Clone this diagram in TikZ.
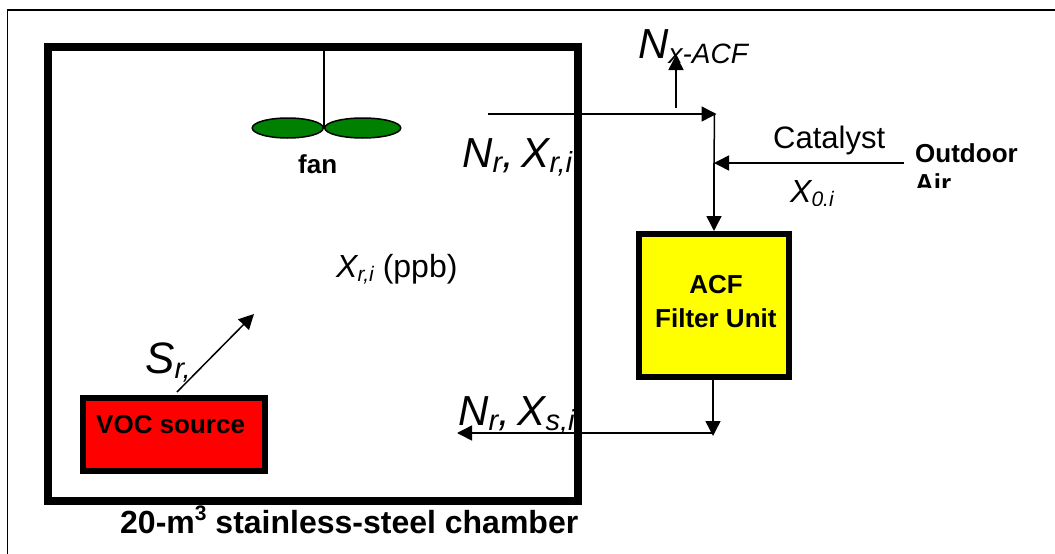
\documentclass[tikz,border=0pt]{standalone}
\usepackage{fontspec}
\setmainfont{Liberation Sans}
\usetikzlibrary{arrows.meta,shapes.geometric}
\newcommand{\subbig}[1]{\raisebox{-5pt}{\fontsize{29}{29}\selectfont #1}}
\newcommand{\subsmall}[1]{\raisebox{-4pt}{\fontsize{21}{21}\selectfont #1}}
\definecolor{fangreen}{RGB}{0,128,0}
\definecolor{acfyellow}{RGB}{255,255,0}
\definecolor{vocred}{RGB}{255,0,0}
\tikzset{
  bigital/.style={anchor=base west, inner sep=0, font=\fontsize{42}{42}\selectfont\itshape},
  midital/.style={anchor=base west, inner sep=0, font=\fontsize{32}{32}\selectfont\itshape},
  boldlabel/.style={anchor=base west, inner sep=0, font=\fontsize{26}{26}\selectfont\bfseries},
  plainlabel/.style={anchor=base west, inner sep=0, font=\fontsize{31}{31}\selectfont},
  box/.style={draw, inner sep=0, line width=6pt},
  blade/.style={draw, ellipse, inner sep=0, line width=1.5pt, fill=fangreen, minimum height=20pt},
  flow/.style={line width=1.5pt},
  flowarrow/.style={line width=1.5pt, -{Triangle[length=15pt,width=15pt]}}
}
\begin{document}
\begin{tikzpicture}[x=1pt, y=-1pt]
\useasboundingbox (0,0) rectangle (1055,554);
\draw[line width=1.5pt] (1055,10) -- (7.5,10) -- (7.5,554);
% texts that the wall and the arrows go over
\begin{scope} \clip (455,120) rectangle (574,175); \node[bigital] (nrtop) at (462,167) {N\subbig{r},\hspace{-4pt} X\subbig{r,i}}; \end{scope}
\begin{scope} \clip (455,390) rectangle (574,432); \node[bigital] (nrbot) at (458,425) {N\subbig{r},\hspace{-4pt} X\subbig{s,i}}; \end{scope}
\node[bigital] (nxacf) at (638,58) {N\raisebox{-5pt}{\fontsize{28}{28}\selectfont x-ACF}};
\node[midital] (xrippb) at (336,277) {X\subsmall{r,i} \normalfont(ppb)};
\node[bigital, font=\fontsize{44}{44}\selectfont\itshape] (srlabel) at (145,373) {S\subbig{r,}};
\node[plainlabel] (catalyst) at (773,148) {Catalyst};
\begin{scope} \clip (780,170) rectangle (860,205); \node[midital] (xzero) at (790,202) {X\subsmall{0.i}}; \end{scope}
\begin{scope} \clip (905,135) rectangle (1055,187); \node[boldlabel] (outdoor) at (915,162) {Outdoor}; \node[boldlabel] (air) at (915,192) {Air}; \end{scope}
\node[boldlabel] (fanlabel) at (298,173) {fan};
\node[anchor=base west, inner sep=0, font=\fontsize{32}{32}\selectfont\bfseries] (chamberlabel) at (120,533) {20-m\raisebox{13pt}{\fontsize{21}{21}\selectfont 3} stainless-steel chamber};
% chamber and boxes
\node[box, line width=8pt, minimum width=530.5pt, minimum height=453.5pt] (chamber) at (312.75,273.75) {};
\node[box, fill=vocred, minimum width=182pt, minimum height=73pt] (voc) at (174,434.5) {};
\node[boldlabel] (voclabel) at (96,433) {VOC source};
\node[box, fill=acfyellow, minimum width=150pt, minimum height=143pt] (acf) at (714,305.5) {};
\node[boldlabel, anchor=base] (acflabel) at (716,293) {ACF};
\node[boldlabel] (filterlabel) at (655,327) {Filter Unit};
% fan
\coordinate (hub) at (324,128);
\node[blade, minimum width=71pt, anchor=east] (bladel) at (hub) {};
\node[blade, minimum width=76pt, anchor=west] (blader) at (hub) {};
\draw[flow] (chamber.north -| hub) ++(0,4) -- (hub);
% flows
\coordinate (ductin) at (488,114); \coordinate (topjoin) at (716.5,114); \coordinate (vent) at (676,108); \coordinate (ventend) at (676,55);
\coordinate (sidein) at (904,163); \coordinate (sidejoin) at (714,163); \coordinate (botjoin) at (713,436); \coordinate (botline) at (713,433); \coordinate (ductout) at (457,433);
\coordinate (srfrom) at (177,392); \coordinate (srto) at (254,314);
\draw[flowarrow] (ductin) -- (topjoin);
\draw[flowarrow] (vent) -- (ventend);
\draw[flow] (714.5,114) -- (sidejoin);
\draw[flowarrow] (sidejoin) -- (acf.north -| sidejoin);
\draw[flowarrow] (sidein) -- (sidejoin);
\draw[flowarrow] (acf.south -| botjoin) -- (botjoin);
\draw[flowarrow] (botline) -- (ductout);
\draw[flowarrow] (srfrom) -- (srto);
\end{tikzpicture}
\end{document}
